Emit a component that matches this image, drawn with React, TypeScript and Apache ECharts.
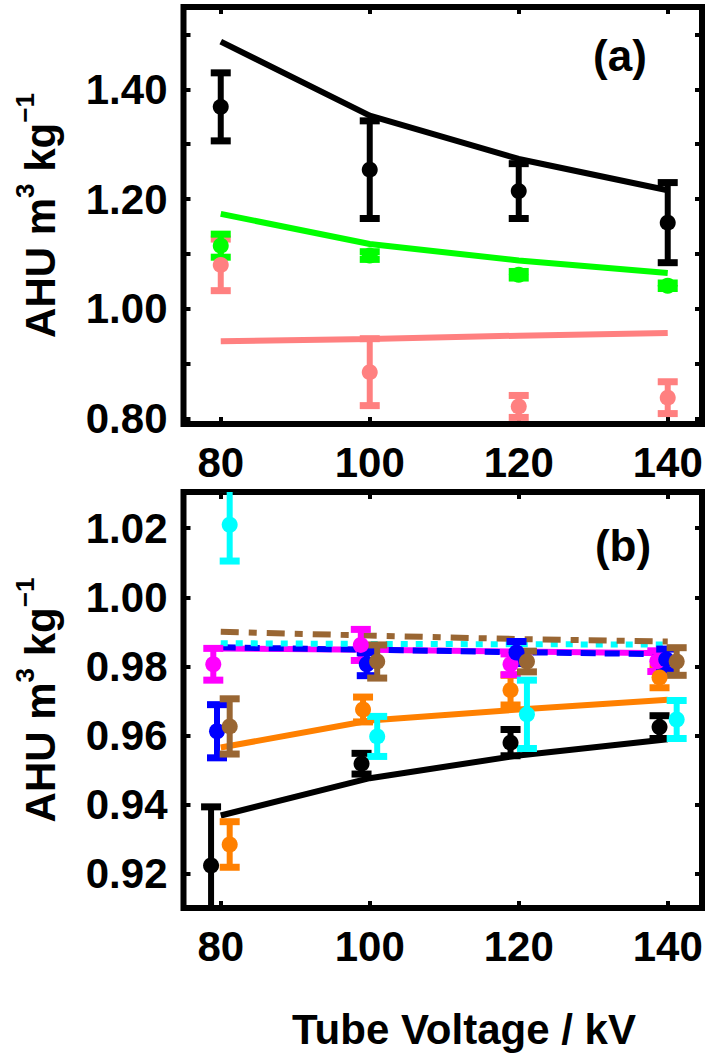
import React, { useEffect, useRef } from "react";
import * as echarts from "echarts";

const FONT = "Liberation Sans";

// Shared x ticks (tube voltage, kV)
const voltageTicks = [80, 100, 120, 140];
const xTitle = "Tube Voltage / kV";

// ---- Panel (a) ----
const aTicksY = [0.8, 0.9, 1.0, 1.1, 1.2, 1.3, 1.4, 1.5];
const aLabelsY = [0.8, 1.0, 1.2, 1.4];
const aModelX = [80, 100, 120, 140];
const aBlackModel = [1.487, 1.352, 1.273, 1.216];
const aGreenModel = [1.173, 1.118, 1.088, 1.065];
const aPinkModel = [0.941, 0.945, 0.951, 0.956];

const aMeasX = [80, 100, 120, 140];
const aBlackMeas = [1.368, 1.2535, 1.2145, 1.157];
const aBlackErr = [0.062, 0.089, 0.05, 0.073];
const aGreenMeas = [1.115, 1.097, 1.062, 1.042];
const aGreenErr = [0.021, 0.007, 0.006, 0.005];
const aPinkMeas = [1.08, 0.8845, 0.822, 0.838];
const aPinkErr = [0.047, 0.061, 0.02, 0.029];

// ---- Panel (b) ----
const bTicksY = [0.92, 0.94, 0.96, 0.98, 1.0, 1.02];
const bModelX = [80, 100, 120, 140];
const bBrownModel = [0.99, 0.9889, 0.9879, 0.9872];
const bCyanModel = [0.9867, 0.9865, 0.9864, 0.9863];
const bBlueModel = [0.9855, 0.9848, 0.9841, 0.9835];
const bMagentaModel = [0.9852, 0.9848, 0.9843, 0.9838];
const bOrangeModel = [0.9565, 0.9643, 0.9675, 0.9703];
const bBlackModel = [0.9368, 0.9476, 0.9542, 0.9589];

const bBlackX = [78.7, 98.9, 118.9, 138.9];
const bBlackMeas = [0.9223, 0.9518, 0.9579, 0.9624];
const bBlackErr = [0.017, 0.003, 0.0038, 0.0033];
const bOrangeX = [81.2, 99.1, 118.9, 138.9];
const bOrangeMeas = [0.9284, 0.9675, 0.9731, 0.9768];
const bOrangeErr = [0.0066, 0.0036, 0.0043, 0.003];
const bMagentaX = [79.0, 98.8, 118.9, 138.6];
const bMagentaMeas = [0.9806, 0.9862, 0.9806, 0.9815];
const bMagentaErr = [0.0046, 0.0045, 0.003, 0.003];
const bBlueX = [79.5, 99.6, 119.7, 139.8];
const bBlueMeas = [0.9612, 0.9806, 0.984, 0.982];
const bBlueErr = [0.0077, 0.0033, 0.0032, 0.003];
const bBrownX = [81.2, 101.0, 121.1, 141.2];
const bBrownMeas = [0.9626, 0.9814, 0.9814, 0.9814];
const bBrownErr = [0.008, 0.0048, 0.003, 0.004];
const bCyanX = [81.2, 101.0, 121.1, 141.2];
const bCyanMeas = [1.021, 0.9597, 0.9661, 0.9646];
const bCyanErr = [0.0105, 0.0058, 0.0099, 0.0055];

const C = {
  black: "#000000",
  green: "#00FF00",
  pink: "#FF8080",
  cyan: "#00FFFF",
  magenta: "#FF00FF",
  blue: "#0000FF",
  brown: "#996633",
  orange: "#FF8000",
};

function zip(xs: number[], ys: number[]) {
  return xs.map((x, i) => [x, ys[i]]);
}
function zip3(xs: number[], ys: number[], es: number[]) {
  return xs.map((x, i) => [x, ys[i], es[i]]);
}

function modelLine(name: string, xs: number[], ys: number[], color: string, axis: number, type: any = "solid") {
  return {
    name,
    type: "line",
    xAxisIndex: axis,
    yAxisIndex: axis,
    data: zip(xs, ys),
    symbol: "none",
    clip: true,
    z: 2,
    lineStyle: { color, width: 6, type, cap: "butt" },
  };
}

function errorBars(name: string, xs: number[], ys: number[], es: number[], color: string, axis: number) {
  return {
    name: name + "-err",
    type: "custom",
    xAxisIndex: axis,
    yAxisIndex: axis,
    clip: true,
    z: 3,
    data: zip3(xs, ys, es),
    encode: { x: 0, y: 1 },
    renderItem: (params: any, api: any) => {
      const x = api.value(0);
      const y = api.value(1);
      const e = api.value(2);
      const top = api.coord([x, y + e]);
      const bot = api.coord([x, y - e]);
      const cap = 10;
      return {
        type: "group",
        children: [
          {
            type: "line",
            shape: { x1: top[0], y1: top[1], x2: bot[0], y2: bot[1] },
            style: { stroke: color, lineWidth: 6 },
          },
          {
            type: "line",
            shape: { x1: top[0] - cap, y1: top[1], x2: top[0] + cap, y2: top[1] },
            style: { stroke: color, lineWidth: 7 },
          },
          {
            type: "line",
            shape: { x1: bot[0] - cap, y1: bot[1], x2: bot[0] + cap, y2: bot[1] },
            style: { stroke: color, lineWidth: 7 },
          },
        ],
      };
    },
  };
}

function points(name: string, xs: number[], ys: number[], color: string, axis: number) {
  return {
    name,
    type: "scatter",
    xAxisIndex: axis,
    yAxisIndex: axis,
    data: zip(xs, ys),
    symbol: "circle",
    symbolSize: 16,
    clip: true,
    z: 4,
    itemStyle: { color, opacity: 1 },
  };
}

const tickFont = { fontFamily: FONT, fontWeight: "bold" as const, fontSize: 42, color: "#000" };

function xAxes(grid: number) {
  const base = {
    type: "value",
    gridIndex: grid,
    min: 75,
    max: 144.6,
    splitLine: { show: false },
    axisLine: { show: false },
  };
  return [
    {
      ...base,
      position: "bottom",
      axisTick: { show: true, inside: true, length: 7, customValues: voltageTicks, lineStyle: { color: "#000", width: 4 } },
      axisLabel: { show: true, customValues: voltageTicks, margin: 17, ...tickFont },
    },
    {
      ...base,
      position: "top",
      axisTick: { show: true, inside: true, length: 7, customValues: voltageTicks, lineStyle: { color: "#000", width: 4 } },
      axisLabel: { show: false },
    },
  ];
}

function yAxes(grid: number, min: number, max: number, ticks: number[], labels: number[]) {
  const base = {
    type: "value",
    gridIndex: grid,
    min,
    max,
    splitLine: { show: false },
    axisLine: { show: false },
  };
  return [
    {
      ...base,
      position: "left",
      axisTick: { show: true, inside: true, length: 7, customValues: ticks, lineStyle: { color: "#000", width: 4 } },
      axisLabel: {
        show: true,
        customValues: labels,
        margin: 16,
        formatter: (v: number) => v.toFixed(2),
        ...tickFont,
      },
      name: "{m|AHU m}{s|3}{m| kg}{s|\u22121}",
      nameLocation: "middle",
      nameRotate: 90,
      nameGap: 122,
      nameTextStyle: {
        rich: {
          m: { fontFamily: FONT, fontWeight: "bold", fontSize: 42, color: "#000", lineHeight: 50, verticalAlign: "bottom" },
          s: { fontFamily: FONT, fontWeight: "bold", fontSize: 26, color: "#000", lineHeight: 22, verticalAlign: "top" },
        },
      },
    },
    {
      ...base,
      position: "right",
      axisTick: { show: true, inside: true, length: 7, customValues: ticks, lineStyle: { color: "#000", width: 4 } },
      axisLabel: { show: false },
    },
  ];
}

export default function App() {
  const ref = useRef<HTMLDivElement>(null);
  useEffect(() => {
    if (!ref.current) return;
    const chart = echarts.init(ref.current, null, { renderer: "svg" });
    const gridStyle = { show: true, borderWidth: 6, borderColor: "#000", backgroundColor: "transparent" };
    const bigText = { fontFamily: FONT, fontWeight: "bold", fill: "#000", align: "center", verticalAlign: "middle" };
    chart.setOption({
      animation: false,
      backgroundColor: "#fff",
      grid: [
        { left: 183.5, top: 7, width: 518.5, height: 417, ...gridStyle },
        { left: 183.5, top: 492, width: 518.5, height: 416, ...gridStyle },
      ],
      xAxis: [...xAxes(0), ...xAxes(1)],
      yAxis: [
        ...yAxes(0, 0.79, 1.55, aTicksY, aLabelsY),
        ...yAxes(1, 0.91, 1.0305, bTicksY, bTicksY),
      ],
      graphic: [
        { type: "text", x: 620, y: 55, style: { ...bigText, text: "(a)", fontSize: 44 } },
        { type: "text", x: 623, y: 545, style: { ...bigText, text: "(b)", fontSize: 44 } },
        { type: "text", x: 464, y: 1029, style: { ...bigText, text: xTitle, fontSize: 42 } },
      ],
      series: [
        // panel (a)
        modelLine("a-pink-model", aModelX, aPinkModel, C.pink, 0),
        modelLine("a-green-model", aModelX, aGreenModel, C.green, 0),
        modelLine("a-black-model", aModelX, aBlackModel, C.black, 0),
        errorBars("a-pink", aMeasX, aPinkMeas, aPinkErr, C.pink, 0),
        points("a-pink", aMeasX, aPinkMeas, C.pink, 0),
        errorBars("a-green", aMeasX, aGreenMeas, aGreenErr, C.green, 0),
        points("a-green", aMeasX, aGreenMeas, C.green, 0),
        errorBars("a-black", aMeasX, aBlackMeas, aBlackErr, C.black, 0),
        points("a-black", aMeasX, aBlackMeas, C.black, 0),
        // panel (b)
        modelLine("b-black-model", bModelX, bBlackModel, C.black, 2),
        modelLine("b-orange-model", bModelX, bOrangeModel, C.orange, 2),
        modelLine("b-magenta-model", bModelX, bMagentaModel, C.magenta, 2),
        modelLine("b-blue-model", bModelX, bBlueModel, C.blue, 2, [15, 9]),
        modelLine("b-cyan-model", bModelX, bCyanModel, C.cyan, 2, [7, 8]),
        modelLine("b-brown-model", bModelX, bBrownModel, C.brown, 2, [18, 10, 8, 10]),
        errorBars("b-black", bBlackX, bBlackMeas, bBlackErr, C.black, 2),
        points("b-black", bBlackX, bBlackMeas, C.black, 2),
        errorBars("b-orange", bOrangeX, bOrangeMeas, bOrangeErr, C.orange, 2),
        points("b-orange", bOrangeX, bOrangeMeas, C.orange, 2),
        errorBars("b-magenta", bMagentaX, bMagentaMeas, bMagentaErr, C.magenta, 2),
        points("b-magenta", bMagentaX, bMagentaMeas, C.magenta, 2),
        errorBars("b-blue", bBlueX, bBlueMeas, bBlueErr, C.blue, 2),
        points("b-blue", bBlueX, bBlueMeas, C.blue, 2),
        errorBars("b-brown", bBrownX, bBrownMeas, bBrownErr, C.brown, 2),
        points("b-brown", bBrownX, bBrownMeas, C.brown, 2),
        errorBars("b-cyan", bCyanX, bCyanMeas, bCyanErr, C.cyan, 2),
        points("b-cyan", bCyanX, bCyanMeas, C.cyan, 2),
      ],
    });
    return () => chart.dispose();
  }, []);
  return (
    <div
      ref={ref}
      style={{ position: "absolute", left: 0, top: 0, width: 714, height: 1060, background: "#fff" }}
    />
  );
}
